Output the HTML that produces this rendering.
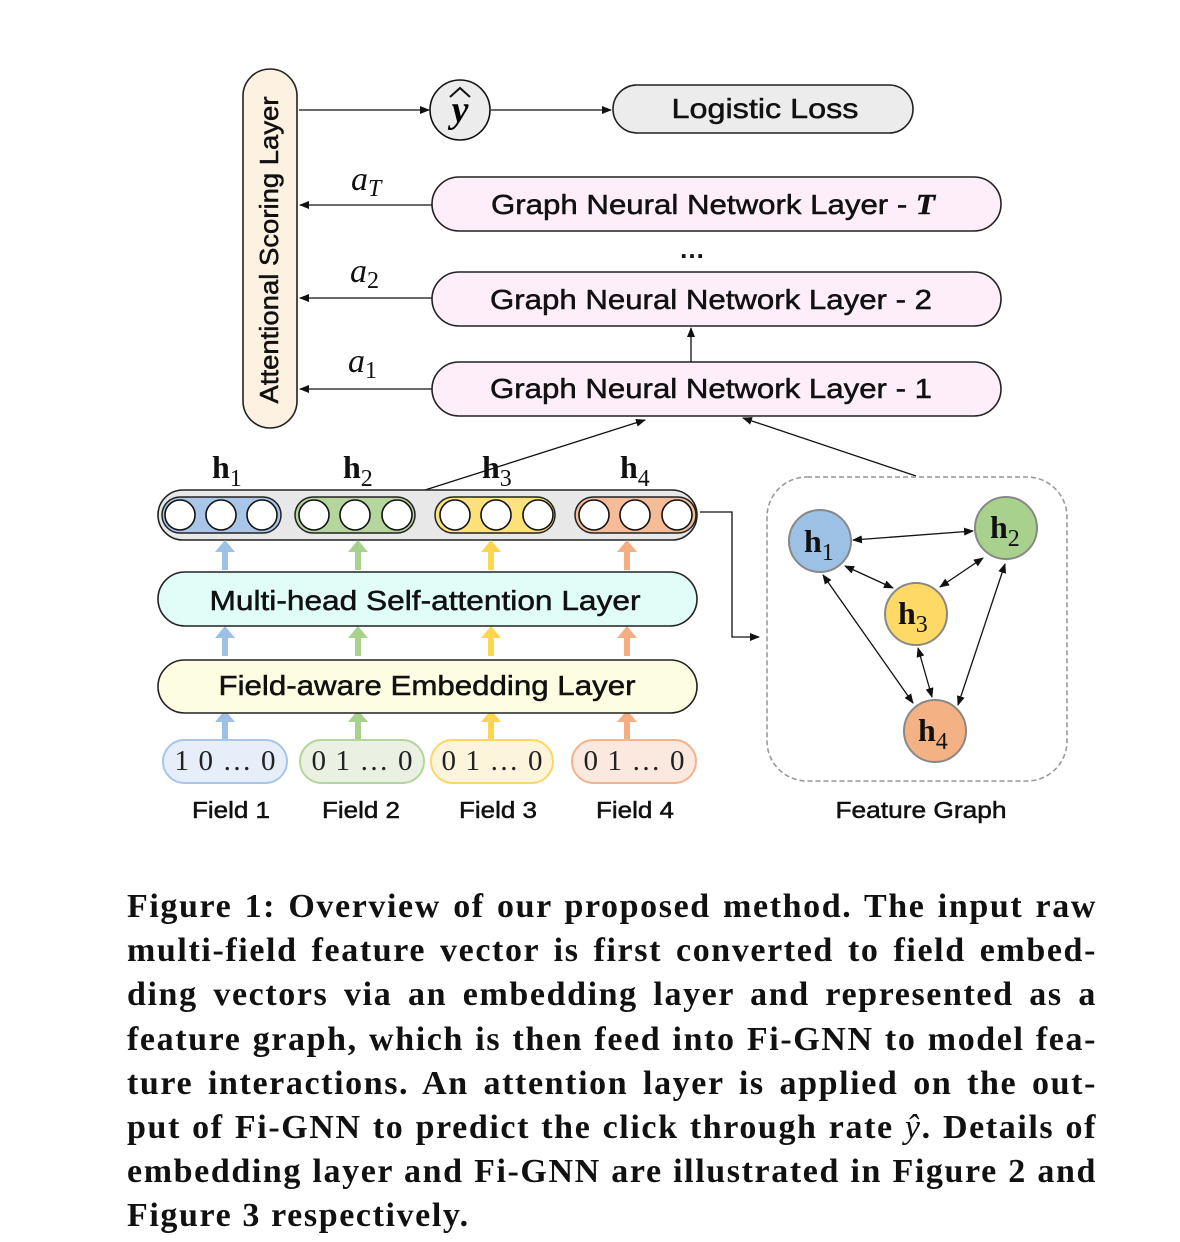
<!DOCTYPE html>
<html><head><meta charset="utf-8"><style>
html,body{margin:0;padding:0;background:#fff;width:1180px;height:1242px;overflow:hidden}
svg{position:absolute;left:0;top:0}
.cap{position:absolute;left:127px;top:885px;width:970px;font-family:"Liberation Serif",serif;font-weight:bold;font-size:34px;letter-spacing:1.6px;line-height:44.2px;color:#111}
.cap div{text-align:justify;text-align-last:justify;white-space:nowrap}
.cap div.last{text-align-last:left}
svg text.s{stroke:#111;stroke-width:0.5}
</style></head><body>
<svg width="1180" height="880" viewBox="0 0 1180 880" font-family="Liberation Sans, sans-serif">
<defs>
<marker id="ar" markerWidth="10" markerHeight="8" refX="9" refY="4" orient="auto" markerUnits="userSpaceOnUse"><path d="M0,0 L10,4 L0,8 z" fill="#111"/></marker>
<marker id="as" markerWidth="10" markerHeight="8" refX="1" refY="4" orient="auto" markerUnits="userSpaceOnUse"><path d="M10,0 L0,4 L10,8 z" fill="#111"/></marker>
</defs>
<rect x="243" y="69" width="54" height="359" rx="27" fill="#fdf1e2" stroke="#222" stroke-width="1.6"/>
<text class="s" transform="translate(278,250) rotate(-90)" text-anchor="middle" font-size="26" textLength="307" lengthAdjust="spacingAndGlyphs" fill="#111">Attentional Scoring Layer</text>
<line x1="299" y1="110" x2="429" y2="110" stroke="#111" stroke-width="1.3" marker-end="url(#ar)"/>
<circle cx="460" cy="110" r="30" fill="#ececec" stroke="#111" stroke-width="1.6"/>
<text x="460" y="122" text-anchor="middle" font-family="Liberation Serif, serif" font-style="italic" font-weight="bold" font-size="38">y</text>
<path d="M450,97 L460,88 L470,97" fill="none" stroke="#111" stroke-width="2"/>
<line x1="491" y1="110" x2="611" y2="110" stroke="#111" stroke-width="1.3" marker-end="url(#ar)"/>
<rect x="613" y="85" width="300" height="48" rx="24" fill="#ececec" stroke="#222" stroke-width="1.6"/>
<text class="s" x="765" y="118" text-anchor="middle" font-size="28" textLength="187" lengthAdjust="spacingAndGlyphs" fill="#111">Logistic Loss</text>
<rect x="432" y="177" width="569" height="54" rx="27" fill="#fdeefa" stroke="#222" stroke-width="1.6"/>
<text class="s" x="713" y="214" text-anchor="middle" font-size="28" textLength="444" lengthAdjust="spacingAndGlyphs" fill="#111">Graph Neural Network Layer - <tspan font-family="Liberation Serif, serif" font-style="italic" font-weight="bold">T</tspan></text>
<text x="692" y="258" text-anchor="middle" font-size="26" font-weight="bold" fill="#111">…</text>
<rect x="432" y="272" width="569" height="54" rx="27" fill="#fdeefa" stroke="#222" stroke-width="1.6"/>
<text class="s" x="711" y="309" text-anchor="middle" font-size="28" textLength="442" lengthAdjust="spacingAndGlyphs" fill="#111">Graph Neural Network Layer - 2</text>
<rect x="432" y="362" width="569" height="54" rx="27" fill="#fdeefa" stroke="#222" stroke-width="1.6"/>
<text class="s" x="711" y="398" text-anchor="middle" font-size="28" textLength="442" lengthAdjust="spacingAndGlyphs" fill="#111">Graph Neural Network Layer - 1</text>
<line x1="691" y1="362" x2="691" y2="328" stroke="#111" stroke-width="1.3" marker-end="url(#ar)"/>
<g stroke="#111" stroke-width="1.3">
<line x1="432" y1="205" x2="300" y2="205" marker-end="url(#ar)"/>
<line x1="432" y1="298" x2="300" y2="298" marker-end="url(#ar)"/>
<line x1="432" y1="389" x2="300" y2="389" marker-end="url(#ar)"/>
</g>
<g font-family="Liberation Serif, serif" font-style="italic" font-size="34" fill="#111">
<text x="351" y="190">a<tspan font-size="24" dy="6">T</tspan></text>
<text x="350" y="282">a<tspan font-size="24" dy="6" font-style="normal">2</tspan></text>
<text x="348" y="372">a<tspan font-size="24" dy="6" font-style="normal">1</tspan></text>
</g>
<line x1="425" y1="490" x2="645" y2="420" stroke="#111" stroke-width="1.3" marker-end="url(#ar)"/>
<line x1="916" y1="476" x2="743" y2="418" stroke="#111" stroke-width="1.3" marker-end="url(#ar)"/>
<g font-family="Liberation Serif, serif" font-weight="bold" font-size="32" fill="#111">
<text x="212" y="478">h<tspan font-size="24" font-weight="normal" dy="8">1</tspan></text>
<text x="343" y="478">h<tspan font-size="24" font-weight="normal" dy="8">2</tspan></text>
<text x="482" y="478">h<tspan font-size="24" font-weight="normal" dy="8">3</tspan></text>
<text x="620" y="478">h<tspan font-size="24" font-weight="normal" dy="8">4</tspan></text>
</g>
<rect x="158" y="490" width="539" height="50" rx="25" fill="#e8e8e8" stroke="#222" stroke-width="1.6"/>
<rect x="162" y="497" width="119" height="36" rx="18" fill="#a9c6e8" stroke="#222" stroke-width="1.5"/>
<rect x="295" y="497" width="120" height="36" rx="18" fill="#b4d59c" stroke="#222" stroke-width="1.5"/>
<rect x="435" y="497" width="120" height="36" rx="18" fill="#fde27a" stroke="#222" stroke-width="1.5"/>
<rect x="575" y="497" width="121" height="36" rx="18" fill="#f5bc97" stroke="#222" stroke-width="1.5"/>
<g fill="#fff" stroke="#111" stroke-width="1.6">
<circle cx="180" cy="515" r="15"/><circle cx="221" cy="515" r="15"/><circle cx="262" cy="515" r="15"/>
<circle cx="314" cy="515" r="15"/><circle cx="355" cy="515" r="15"/><circle cx="397" cy="515" r="15"/>
<circle cx="455" cy="515" r="15"/><circle cx="496" cy="515" r="15"/><circle cx="538" cy="515" r="15"/>
<circle cx="594" cy="515" r="15"/><circle cx="635" cy="515" r="15"/><circle cx="677" cy="515" r="15"/>
</g>
<g fill="#9dc0e5"><path d="M222,570 v-18 h-7 l10,-12 l10,12 h-7 v18z"/><path d="M222,656 v-18 h-7 l10,-12 l10,12 h-7 v18z"/><path d="M222,740 v-18 h-7 l10,-12 l10,12 h-7 v18z"/></g>
<g fill="#a9d18e"><path d="M355,570 v-18 h-7 l10,-12 l10,12 h-7 v18z"/><path d="M355,656 v-18 h-7 l10,-12 l10,12 h-7 v18z"/><path d="M355,740 v-18 h-7 l10,-12 l10,12 h-7 v18z"/></g>
<g fill="#ffd54f"><path d="M488,570 v-18 h-7 l10,-12 l10,12 h-7 v18z"/><path d="M488,656 v-18 h-7 l10,-12 l10,12 h-7 v18z"/><path d="M488,740 v-18 h-7 l10,-12 l10,12 h-7 v18z"/></g>
<g fill="#f4ae82"><path d="M624,570 v-18 h-7 l10,-12 l10,12 h-7 v18z"/><path d="M624,656 v-18 h-7 l10,-12 l10,12 h-7 v18z"/><path d="M624,740 v-18 h-7 l10,-12 l10,12 h-7 v18z"/></g>
<rect x="158" y="572" width="539" height="54" rx="27" fill="#e0fdf7" stroke="#222" stroke-width="1.6"/>
<text class="s" x="425" y="610" text-anchor="middle" font-size="28" textLength="431" lengthAdjust="spacingAndGlyphs" fill="#111">Multi-head Self-attention Layer</text>
<rect x="158" y="660" width="539" height="53" rx="26.5" fill="#fdfde1" stroke="#222" stroke-width="1.6"/>
<text class="s" x="427" y="695" text-anchor="middle" font-size="28" textLength="417" lengthAdjust="spacingAndGlyphs" fill="#111">Field-aware Embedding Layer</text>
<rect x="163" y="740" width="124" height="43" rx="21.5" fill="#e6eef9" stroke="#a9c6e8" stroke-width="2"/>
<rect x="300" y="740" width="124" height="43" rx="21.5" fill="#eaf1e3" stroke="#b4d59c" stroke-width="2"/>
<rect x="431" y="740" width="122" height="43" rx="21.5" fill="#fdf4dc" stroke="#fdd66a" stroke-width="2"/>
<rect x="572" y="740" width="124" height="43" rx="21.5" fill="#fbe9df" stroke="#f3b38c" stroke-width="2"/>
<g font-family="Liberation Serif, serif" font-size="29" fill="#222" text-anchor="middle">
<text x="225" y="770" textLength="101" lengthAdjust="spacing">1 0 … 0</text>
<text x="362" y="770" textLength="101" lengthAdjust="spacing">0 1 … 0</text>
<text x="492" y="770" textLength="101" lengthAdjust="spacing">0 1 … 0</text>
<text x="634" y="770" textLength="101" lengthAdjust="spacing">0 1 … 0</text>
</g>
<g font-size="23" fill="#111" text-anchor="middle">
<text class="s" x="231" y="818" textLength="78" lengthAdjust="spacingAndGlyphs">Field 1</text>
<text class="s" x="361" y="818" textLength="78" lengthAdjust="spacingAndGlyphs">Field 2</text>
<text class="s" x="498" y="818" textLength="78" lengthAdjust="spacingAndGlyphs">Field 3</text>
<text class="s" x="635" y="818" textLength="78" lengthAdjust="spacingAndGlyphs">Field 4</text>
<text class="s" x="921" y="818" textLength="171" lengthAdjust="spacingAndGlyphs">Feature Graph</text>
</g>
<polyline points="700,512 732,512 732,637 759,637" fill="none" stroke="#111" stroke-width="1.3" marker-end="url(#ar)"/>
<rect x="767" y="477" width="300" height="304" rx="40" fill="none" stroke="#999" stroke-width="1.6" stroke-dasharray="5,3"/>
<g stroke="#111" stroke-width="1.3" marker-start="url(#as)" marker-end="url(#ar)">
<line x1="853" y1="540" x2="973" y2="531"/>
<line x1="845" y1="566" x2="893" y2="588"/>
<line x1="983" y1="558" x2="940" y2="587"/>
<line x1="823" y1="575" x2="913" y2="703"/>
<line x1="1005" y1="564" x2="958" y2="705"/>
<line x1="918" y1="648" x2="932" y2="697"/>
</g>
<g stroke="#888" stroke-width="2">
<circle cx="820" cy="541" r="31" fill="#9dc0e5"/>
<circle cx="1006" cy="528" r="31" fill="#a9d18e"/>
<circle cx="916" cy="614" r="31" fill="#ffd966"/>
<circle cx="935" cy="731" r="31" fill="#f4b183"/>
</g>
<g font-family="Liberation Serif, serif" font-weight="bold" font-size="32" fill="#111">
<text x="804" y="552">h<tspan font-size="24" font-weight="normal" dy="8">1</tspan></text>
<text x="990" y="538">h<tspan font-size="24" font-weight="normal" dy="8">2</tspan></text>
<text x="898" y="624">h<tspan font-size="24" font-weight="normal" dy="8">3</tspan></text>
<text x="918" y="741">h<tspan font-size="24" font-weight="normal" dy="8">4</tspan></text>
</g>
</svg>
<div class="cap">
<div>Figure 1: Overview of our proposed method. The input raw</div>
<div>multi-field feature vector is first converted to field embed-</div>
<div>ding vectors via an embedding layer and represented as a</div>
<div>feature graph, which is then feed into Fi-GNN to model fea-</div>
<div>ture interactions. An attention layer is applied on the out-</div>
<div>put of Fi-GNN to predict the click through rate <i style="font-weight:normal">ŷ</i>. Details of</div>
<div>embedding layer and Fi-GNN are illustrated in Figure 2 and</div>
<div class="last">Figure 3 respectively.</div>
</div>
</body></html>
